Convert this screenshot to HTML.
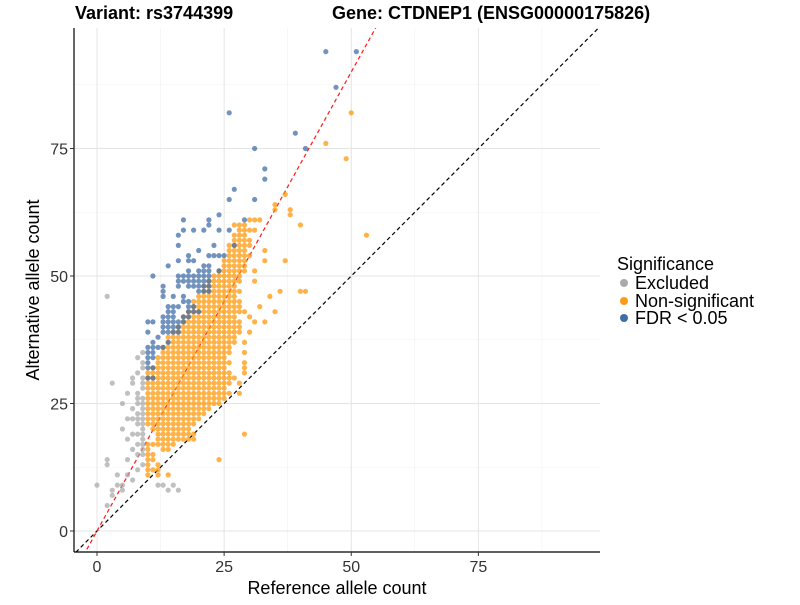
<!DOCTYPE html>
<html><head><meta charset="utf-8"><style>
html,body{margin:0;padding:0;background:#fff}
svg text{font-family:"Liberation Sans",Arial,sans-serif}
</style></head><body>
<svg id="chart" width="800" height="600" xmlns="http://www.w3.org/2000/svg">
<rect width="800" height="600" fill="#fff"/>
<g id="grid"></g>
<g id="lines"></g>
<g id="points"></g>
<g id="axes"></g>
<text x="75" y="19" font-size="18" font-weight="bold">Variant: rs3744399</text>
<text x="332" y="19" font-size="18" font-weight="bold">Gene: CTDNEP1 (ENSG00000175826)</text>
<text x="337" y="594" font-size="18" text-anchor="middle">Reference allele count</text>
<text transform="translate(39,290) rotate(-90)" font-size="18" text-anchor="middle">Alternative allele count</text>
<g>
<text x="617" y="270" font-size="18">Significance</text>
<circle cx="624" cy="283" r="4" fill="#aaaaaa"/>
<text x="635" y="289" font-size="18">Excluded</text>
<circle cx="624" cy="301" r="4" fill="#ff9a14"/>
<text x="635" y="307" font-size="18">Non-significant</text>
<circle cx="624" cy="318" r="4" fill="#3e6ea6"/>
<text x="635" y="324" font-size="18">FDR &lt; 0.05</text>
</g>
</svg>
<script>
// tick values
const xTicks=[0,25,50,75];
const yTicks=[0,25,50,75];
const minorTicks=[12.5,37.5,62.5,87.5];
// orange row data: [alt, refStart, refEnd]
const orangeRows=[[12,10,12],[13,10,10],[15,10,11],[17,10,15],[18,12,19],[19,12,19],[20,11,18],[21,10,19],[22,10,20],[23,10,21],[24,10,22],[25,10,24],[26,10,25],[27,10,26],[28,10,25],[29,10,26],[30,10,27],[31,10,26],[32,11,25],[33,12,26],[34,12,25],[35,13,26],[36,13,26],[37,14,27],[38,14,27],[39,15,28],[40,16,28],[41,17,28],[42,17,27],[43,18,29],[44,19,28],[45,19,28],[46,20,27],[47,21,28],[48,21,27],[49,22,28],[50,23,28],[51,24,29],[52,25,29],[53,25,29],[54,26,30],[55,26,29],[56,26,30],[57,27,30],[58,27,29],[59,28,31],[60,27,29],[61,30,32]];
// single points: [ref, alt]
const orangeExtra=[[12,11],[14,11],[10,11],[12,13],[10,14],[11,14],[24,14],[10,16],[13,16],[14,16],[29,19],[28,27],[28,29],[29,31],[29,32],[29,33],[29,35],[29,37],[30,39],[31,41],[33,41],[30,42],[35,43],[32,44],[34,46],[36,47],[40,47],[41,47],[31,49],[31,51],[33,53],[37,53],[33,55],[40,60],[38,62],[35,63],[38,63],[35,64],[37,66],[45,76],[49,73],[50,82],[53,58]];
// blue points: [ref, alt]
const bluePoints=[[10,30],[11,30],[10,32],[11,32],[10,33],[10,34],[11,34],[10,35],[11,35],[10,36],[11,36],[12,36],[13,36],[11,37],[14,37],[12,38],[10,39],[13,39],[14,39],[15,39],[16,39],[13,40],[14,40],[15,40],[16,40],[10,41],[11,41],[13,41],[14,41],[15,41],[16,41],[17,41],[13,42],[14,42],[15,42],[17,42],[18,42],[14,43],[15,43],[18,43],[19,43],[20,43],[14,44],[15,44],[16,44],[18,44],[19,44],[17,45],[18,45],[13,46],[15,46],[17,46],[13,47],[20,47],[21,47],[22,47],[13,48],[16,48],[18,48],[19,48],[20,48],[21,48],[22,48],[16,49],[17,49],[18,49],[19,49],[20,49],[21,49],[22,49],[11,50],[16,50],[17,50],[18,50],[19,50],[20,50],[21,50],[22,50],[18,51],[20,51],[21,51],[22,51],[24,51],[14,52],[21,52],[22,52],[16,53],[18,53],[19,53],[18,54],[22,54],[23,54],[24,54],[25,54],[20,55],[16,56],[23,56],[27,56],[16,58],[17,59],[19,59],[21,59],[24,59],[26,59],[22,60],[17,61],[22,61],[29,61],[24,62],[26,65],[31,65],[27,67],[26,82],[31,75],[33,71],[33,69],[39,78],[41,75],[45,94],[51,94],[47,87]];
const grayPoints=[[2,5],[3,7],[3,8],[5,8],[14,8],[16,8],[0,9],[4,9],[5,9],[12,9],[13,9],[15,9],[7,10],[4,11],[6,11],[8,12],[9,13],[2,13],[2,14],[6,14],[8,15],[9,15],[7,16],[9,16],[8,17],[9,17],[6,18],[9,18],[7,19],[8,19],[9,19],[5,20],[9,20],[8,21],[9,21],[6,22],[7,22],[8,22],[9,22],[8,23],[9,23],[7,24],[9,24],[5,25],[8,25],[9,25],[8,26],[9,26],[6,27],[8,27],[9,28],[3,29],[7,29],[9,29],[7,30],[9,30],[8,31],[9,32],[9,33],[8,34],[9,35],[2,46]];

const X0=74,X1=600,Y0=28,Y1=552;
const sx=v=>97+5.085*v, sy=v=>531-5.1*v;
const NS='http://www.w3.org/2000/svg';
function mk(t,a,p){const e=document.createElementNS(NS,t);for(const k in a)e.setAttribute(k,a[k]);p.appendChild(e);return e;}
const grid=document.getElementById('grid');
minorTicks.forEach(v=>{
 const l1=mk('line',{x1:sx(v),x2:sx(v),y1:Y0,y2:Y1,stroke:'#f0f0f0','stroke-width':0.6},grid);
 
 
 const l2=mk('line',{x1:X0,x2:X1,y1:sy(v),y2:sy(v),stroke:'#f0f0f0','stroke-width':0.6},grid);
 
 
});
xTicks.forEach(v=>{
 const l=mk('line',{x1:sx(v),x2:sx(v),y1:Y0,y2:Y1,stroke:'#e4e4e4','stroke-width':1},grid);
 
 
});
yTicks.forEach(v=>{
 const l=mk('line',{x1:X0,x2:X1,y1:sy(v),y2:sy(v),stroke:'#e4e4e4','stroke-width':1},grid);
 
 
});
const lines=document.getElementById('lines');
const cp=mk('clipPath',{id:'pc'},lines);mk('rect',{x:X0,y:Y0,width:X1-X0,height:Y1-Y0},cp);
const idl=mk('line',{x1:sx(-10),y1:sy(-10),x2:sx(110),y2:sy(110),stroke:'#000','stroke-width':1.2,'stroke-dasharray':'4,3','clip-path':'url(#pc)'},lines);


const rl=mk('line',{x1:sx(-10),y1:sy(-18),x2:sx(60),y2:sy(108),stroke:'#ff1a1a','stroke-width':1.2,'stroke-dasharray':'4,3','clip-path':'url(#pc)'},lines);



const pts=document.getElementById('points');
function dot(r,a,col,name){
 const c=mk('circle',{cx:sx(r),cy:sy(a),r:2.6,fill:col,'fill-opacity':0.72},pts);
 
 
}
grayPoints.forEach(p=>dot(p[0],p[1],'#a8a8a8','point-excluded'));
orangeRows.forEach(r=>{for(let x=r[1];x<=r[2];x++)dot(x,r[0],'#ff9400','point-nonsig');});
orangeExtra.forEach(p=>dot(p[0],p[1],'#ff9400','point-nonsig'));
bluePoints.forEach(p=>dot(p[0],p[1],'#3a6aa4','point-fdr'));

const axes=document.getElementById('axes');
const ya=mk('line',{x1:X0,x2:X0,y1:Y0,y2:Y1,stroke:'#000','stroke-width':1.2},axes);


const xa=mk('line',{x1:X0,x2:X1,y1:Y1,y2:Y1,stroke:'#000','stroke-width':1.2},axes);


xTicks.forEach(v=>{
 const tk=mk('line',{x1:sx(v),x2:sx(v),y1:Y1,y2:Y1+4,stroke:'#333'},axes);
 
 
 const t=mk('text',{x:sx(v),y:Y1+20,'font-size':16,'text-anchor':'middle',fill:'#333'},axes);t.textContent=v;
 
 
});
yTicks.forEach(v=>{
 const tk=mk('line',{x1:X0-4,x2:X0,y1:sy(v),y2:sy(v),stroke:'#333'},axes);
 
 
 const t=mk('text',{x:X0-6,y:sy(v)+6,'font-size':16,'text-anchor':'end',fill:'#333'},axes);t.textContent=v;
 
 
});
</script>
</body></html>
